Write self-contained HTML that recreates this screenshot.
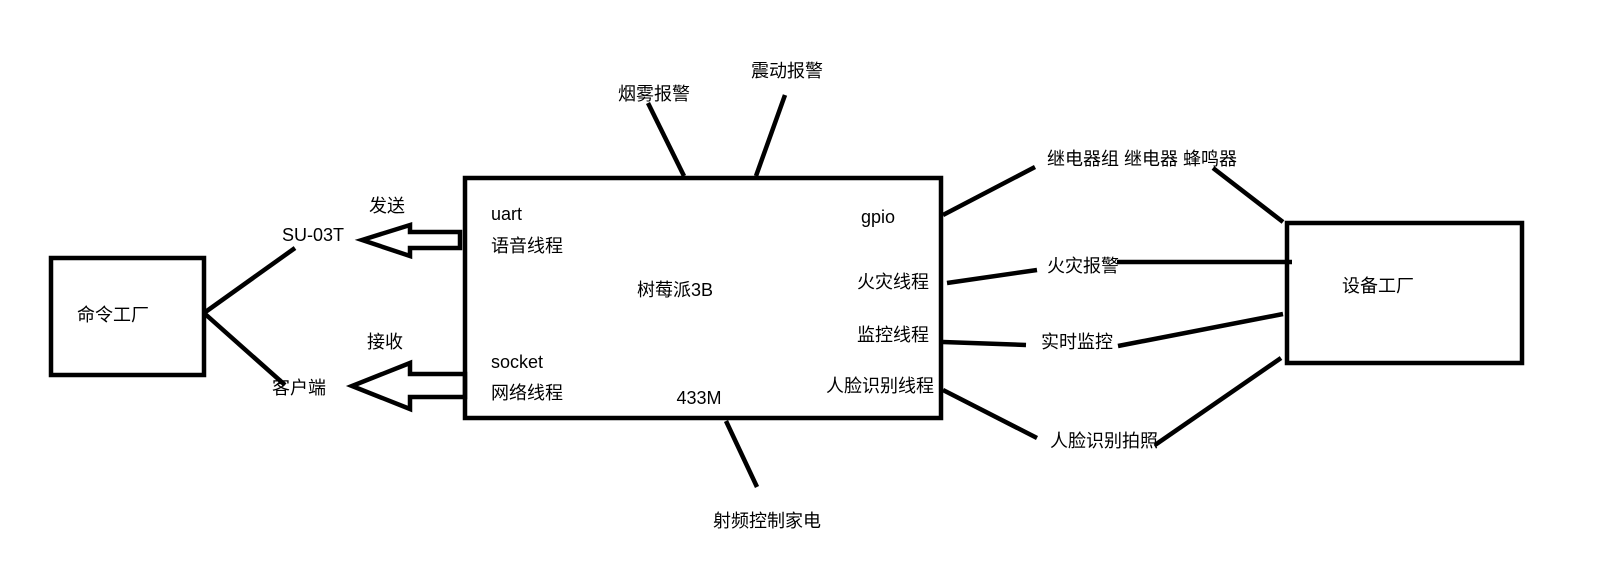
<!DOCTYPE html>
<html><head><meta charset="utf-8"><style>
html,body{margin:0;padding:0;background:#fff;width:1615px;height:574px;overflow:hidden}
svg text{font-family:"Liberation Sans","Noto Sans CJK SC","WenQuanYi Zen Hei",sans-serif;font-size:18px;fill:#000;dominant-baseline:middle}
</style></head><body>
<svg width="1615" height="574" viewBox="0 0 1615 574" xmlns="http://www.w3.org/2000/svg">
<g fill="none" stroke="#000" stroke-width="4.5">
<rect x="465" y="178" width="476" height="240"/>
<rect x="51" y="258" width="153" height="117"/>
<rect x="1287" y="223" width="235" height="140"/>
<polygon points="362,240 410,225 410,232 460,232 460,248 410,248 410,256" stroke-linejoin="miter"/>
<polygon points="352,386 410,363 410,374 465,374 465,397 410,397 410,409" stroke-linejoin="miter"/>
<line x1="204" y1="313" x2="295" y2="248"/>
<line x1="204" y1="313" x2="285" y2="385"/>
<line x1="684" y1="176" x2="648" y2="103"/>
<line x1="756" y1="176" x2="785" y2="95"/>
<line x1="726" y1="421" x2="757" y2="487"/>
<line x1="943" y1="215" x2="1035" y2="167"/>
<line x1="947" y1="283" x2="1037" y2="270"/>
<line x1="943" y1="342" x2="1026" y2="345"/>
<line x1="943" y1="390" x2="1037" y2="438"/>
<line x1="1213" y1="168" x2="1283" y2="222"/>
<line x1="1117" y1="262" x2="1292" y2="262"/>
<line x1="1118" y1="346" x2="1283" y2="314"/>
<line x1="1155" y1="445" x2="1281" y2="358"/>
</g>
<text x="787" y="72" text-anchor="middle">震动报警</text>
<text x="654" y="95" text-anchor="middle">烟雾报警</text>
<text x="1047" y="160">继电器组 继电器 蜂鸣器</text>
<text x="1047" y="267">火灾报警</text>
<text x="1041" y="343">实时监控</text>
<text x="1050" y="442">人脸识别拍照</text>
<text x="1378" y="287" text-anchor="middle">设备工厂</text>
<text x="77" y="316">命令工厂</text>
<text x="282" y="236">SU-03T</text>
<text x="369" y="207">发送</text>
<text x="367" y="343">接收</text>
<text x="272" y="389">客户端</text>
<text x="491" y="215">uart</text>
<text x="491" y="247">语音线程</text>
<text x="491" y="363">socket</text>
<text x="491" y="394">网络线程</text>
<text x="675" y="291" text-anchor="middle">树莓派3B</text>
<text x="699" y="399" text-anchor="middle">433M</text>
<text x="861" y="218">gpio</text>
<text x="929" y="283" text-anchor="end">火灾线程</text>
<text x="929" y="336" text-anchor="end">监控线程</text>
<text x="934" y="387" text-anchor="end">人脸识别线程</text>
<text x="767" y="522" text-anchor="middle">射频控制家电</text>
</svg>
</body></html>
